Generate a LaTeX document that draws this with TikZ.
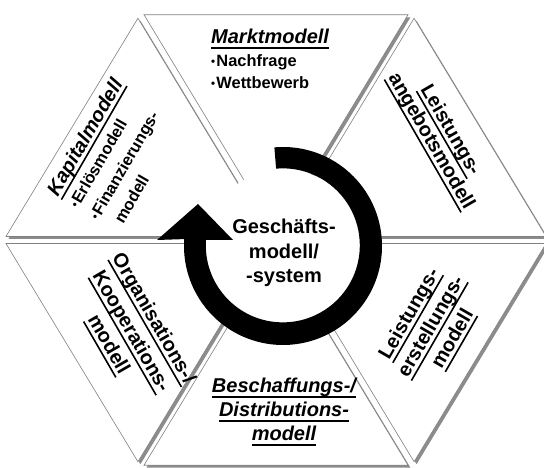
\documentclass[tikz,border=0pt]{standalone}
\usepackage{fontspec}
\setmainfont{Liberation Sans}
\usetikzlibrary{positioning}

\newcommand{\kopf}{\fontsize{20}{25}\selectfont\bfseries\itshape}
\newcommand{\zl}[1]{\scalebox{0.82}{\fontsize{20}{20}\selectfont\bfseries #1}}
\newcommand{\pkt}{{\raisebox{1.5pt}{\scalebox{0.7}{\textbullet}}}\hspace{1.5pt}}
\newcommand{\uln}[1]{\setbox0=\hbox{#1}\rlap{\rule[-5pt]{\wd0}{1.6pt}}\box0}

\tikzset{
  feld/.style={fill=white, draw=black!50, line width=0.6pt},
  schatten/.style={fill=black!45},
  titel/.style={font=\fontsize{20}{#1}\selectfont\bfseries, align=center, inner sep=0pt},
  titel/.default=24,
  liste/.style={font=\fontsize{16}{#1}\selectfont\bfseries, inner sep=0pt},
  liste/.default=20,
  kursiv/.style={execute at begin node=\itshape},
}

\begin{document}
\begin{tikzpicture}[x=1pt,y=1pt]
\useasboundingbox (0,0) rectangle (544,468);

% six triangles of the hexagon
\coordinate (mitte) at (276,228);
\foreach \a in {0,60,...,300}{
  \begin{scope}[shift={(mitte)}, shift={(\a+30:7)}]
    \fill[schatten, shift={(2.5,-2.5)}] (0,0) -- (\a:264 and 252) -- (\a+60:264 and 252) -- cycle;
    \draw[feld] (0,0) -- (\a:264 and 252) -- (\a+60:264 and 252) -- cycle;
  \end{scope}
}

% circular arrow
\coordinate (kreis) at (283,222);
\fill[white] (kreis) circle (77);
\fill (kreis) ++(95:99) arc[start angle=95, end angle=-184, radius=99]
  -- (157,228) -- (198,264) -- (233,228) -- (206,228)
  arc[start angle=-184, end angle=95, radius=77] -- cycle;

\node[titel=24.5] (kern) at (284,215) {Geschäfts-\\modell/\\-system};

% labels
\node[liste=22.5, anchor=north west] (markt) at (211,440)
  {\begin{tabular}{@{}l@{}}
   {\kopf\uln{Marktmodell}}\\
   \zl{\pkt Nachfrage}\\ \zl{\pkt Wettbewerb}
   \end{tabular}};
\node[liste=23.5, rotate=60] (kapital) at (117,312)
  {\begin{tabular}{@{}l@{}}
   {\kopf\uln{Kapitalmodell}}\\
   \zl{\pkt Erlösmodell}\\ \zl{\pkt Finanzierungs-}\\ \zl{\hspace{11pt}modell}
   \end{tabular}};
\node[titel=22, rotate=-60] (angebot) at (440,332)
  {\uln{Leistungs-}\\\uln{angebotsmodell}};
\node[titel=25, rotate=60] (erstellung) at (432,141)
  {\uln{Leistungs-}\\\uln{erstellungs-}\\\uln{modell}};
\node[titel=24, kursiv] (beschaffung) at (284,56)
  {\uln{Beschaffungs-/}\\\uln{Distributions-}\\\uln{modell}};
\node[titel=26, rotate=-60] (organisation) at (130,136)
  {\uln{Organisations-/}\\\uln{Kooperations-}\\\uln{modell}};

\end{tikzpicture}
\end{document}
